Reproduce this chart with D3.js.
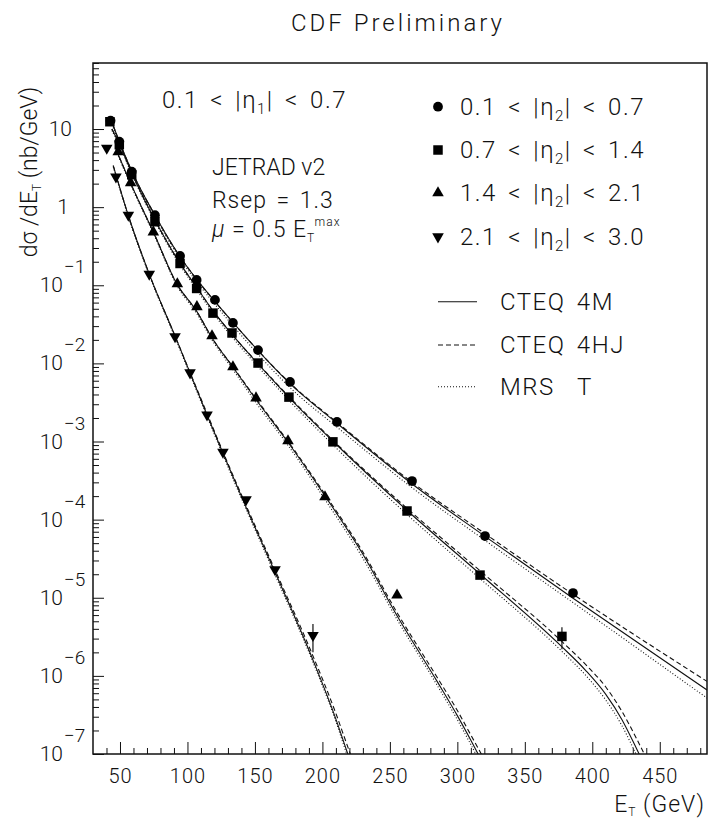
<!DOCTYPE html>
<html>
<head>
<meta charset="utf-8">
<script src="https://cdn.jsdelivr.net/npm/d3@7"></script>
<style>
    body { margin: 0; background: #fff; }
    svg text { font-family: Roboto, "DejaVu Sans", sans-serif; font-weight: 300; fill: #111; }
</style>
</head>
<body>
<svg id="chart" width="710" height="821"></svg>
<script>
// eta2 bins (legend)
const binLo = ['0.1', '0.7', '1.4', '2.1'];
const binHi = ['0.7', '1.4', '2.1', '3.0'];
const markers = ['circle', 'square', 'triangle', 'invtriangle'];

// measured points (ET in GeV, dsigma/dET in nb/GeV)
const circE = [43, 49.5, 58.7, 75.9, 94.5, 106.8, 120.4, 133.7, 152.3, 176, 210.8, 266.4, 320.5, 385.7];
const circV = [12.8, 6.9, 2.84, 0.79, 0.237, 0.117, 0.065, 0.033, 0.0148, 0.00578, 0.00178, 3.12e-4, 6.17e-5, 1.15e-5];
const circErr = [0, 0, 0, 0, 0, 0, 0, 0, 0, 0, 0, 0, 0, 0];

const sqE = [42.5, 49.5, 58.7, 75.9, 94.5, 106.8, 118.9, 133, 152.3, 175.2, 207.8, 262.7, 316.8, 377.5];
const sqV = [12.4, 6.3, 2.6, 0.65, 0.19, 0.091, 0.044, 0.0245, 0.0101, 0.0037, 9.9e-4, 1.29e-4, 1.95e-5, 3.2e-6];
const sqErr = [0, 0, 0, 0, 0, 0, 0, 0, 0, 0, 0, 0, 0, 1.0e-6];

const triE = [48.7, 57.9, 74.7, 92.5, 107, 118.2, 133.7, 150.8, 174.5, 201.9, 255.3];
const triV = [5.1, 2.05, 0.48, 0.104, 0.053, 0.0224, 0.009, 0.0036, 1.02e-3, 1.95e-4, 1.08e-5];
const triErr = [0, 0, 0, 0, 0, 0, 0, 0, 0, 0, 0];

const invE = [40.2, 47, 56.2, 71.7, 90.8, 101.9, 114.5, 126.3, 143.4, 164.9, 193];
const invV = [5.7, 2.45, 0.79, 0.139, 0.022, 0.0076, 0.0022, 7.3e-4, 1.8e-4, 2.3e-5, 3.3e-6];
const invErr = [0, 0, 0, 0, 0, 0, 0, 0, 0, 0, 1.3e-6];

// JETRAD predictions: CTEQ 4M (solid), CTEQ 4HJ (dashed), MRS T (dotted)
const circCurveE = [45, 50, 60, 75, 95, 107, 120, 134, 152, 176, 211, 266, 320, 386, 485];
const circCteq4m = [11, 6.6, 2.6, 0.84, 0.225, 0.118, 0.063, 0.033, 0.0148, 0.0055, 0.0017, 2.9e-4, 6.2e-5, 9.8e-6, 6.6e-7];
const circCteq4hj = [11, 6.6, 2.6, 0.84, 0.225, 0.118, 0.063, 0.033, 0.0148, 0.0056, 0.00175, 3.05e-4, 6.7e-5, 1.1e-5, 8.5e-7];
const circMrst = [10.5, 6.3, 2.5, 0.8, 0.212, 0.11, 0.058, 0.030, 0.0133, 0.0049, 0.00152, 2.6e-4, 5.5e-5, 8.6e-6, 5.2e-7];

const sqCurveE = [44, 50, 60, 76, 95, 107, 119, 133, 152, 175, 208, 263, 317, 377, 395, 410, 422, 433, 442];
const sqCteq4m = [10, 6.2, 2.45, 0.68, 0.185, 0.093, 0.047, 0.0235, 0.0100, 0.0037, 1.0e-3, 1.3e-4, 2.0e-5, 2.4e-6, 1.18e-6, 5.8e-7, 2.75e-7, 1.15e-7, 5.5e-8];
const sqCteq4hj = [10, 6.2, 2.45, 0.68, 0.185, 0.093, 0.047, 0.0235, 0.0101, 0.0038, 1.03e-3, 1.38e-4, 2.2e-5, 2.8e-6, 1.4e-6, 7.2e-7, 3.5e-7, 1.55e-7, 7.5e-8];
const sqMrst = [9.6, 5.9, 2.35, 0.65, 0.175, 0.087, 0.044, 0.0218, 0.0092, 0.0034, 9.0e-4, 1.15e-4, 1.75e-5, 2.1e-6, 1.02e-6, 4.9e-7, 2.3e-7, 9.5e-8, 4.5e-8];

const triCurveE = [47, 58, 75, 92, 107, 118, 134, 151, 175, 202, 230, 255, 285, 300, 310, 320];
const triCteq4m = [5.5, 2.0, 0.47, 0.105, 0.046, 0.0215, 0.0088, 0.0034, 9.5e-4, 2.0e-4, 3.6e-5, 6.0e-6, 8.5e-7, 3.1e-7, 1.5e-7, 7e-8];
const triCteq4hj = [5.5, 2.0, 0.47, 0.105, 0.046, 0.0215, 0.0089, 0.0035, 9.8e-4, 2.1e-4, 3.85e-5, 6.6e-6, 9.6e-7, 3.6e-7, 1.75e-7, 8.5e-8];
const triMrst = [5.3, 1.92, 0.45, 0.1, 0.043, 0.0202, 0.0082, 0.0031, 8.7e-4, 1.8e-4, 3.2e-5, 5.4e-6, 7.6e-7, 2.75e-7, 1.32e-7, 6.2e-8];

const invCurveE = [45, 56, 72, 91, 102, 114, 126, 143, 165, 193, 210, 218, 224];
const invCteq4m = [3.4, 0.8, 0.135, 0.022, 0.0075, 0.0023, 7.3e-4, 1.5e-4, 2.1e-5, 1.6e-6, 2.8e-7, 1.1e-7, 5.5e-8];
const invCteq4hj = [3.4, 0.8, 0.135, 0.022, 0.0076, 0.0024, 7.6e-4, 1.58e-4, 2.25e-5, 1.8e-6, 3.3e-7, 1.35e-7, 7e-8];
const invMrst = [3.3, 0.77, 0.13, 0.021, 0.0071, 0.0022, 6.9e-4, 1.42e-4, 1.95e-5, 1.5e-6, 2.6e-7, 1.0e-7, 5e-8];

const modelNames = ['CTEQ 4M', 'CTEQ 4HJ', 'MRS  T'];
const modelDash = [null, '5,3', '1,2'];

const xTicks = [50, 100, 150, 200, 250, 300, 350, 400, 450];
const yDecades = [1e1, 1, 1e-1, 1e-2, 1e-3, 1e-4, 1e-5, 1e-6, 1e-7];

// ---- layout ----
const plot = { left: 93, right: 707, top: 63, bottom: 754 };
const svg = d3.select('#chart');

const x = d3.scaleLinear().domain([30, 485]).range([plot.left, plot.right]);
const y = d3.scaleLog().domain([1e-7, 70]).range([plot.bottom, plot.top]);

const series = [
    { E: circE, V: circV, err: circErr, curveE: circCurveE, models: [circCteq4m, circCteq4hj, circMrst] },
    { E: sqE, V: sqV, err: sqErr, curveE: sqCurveE, models: [sqCteq4m, sqCteq4hj, sqMrst] },
    { E: triE, V: triV, err: triErr, curveE: triCurveE, models: [triCteq4m, triCteq4hj, triMrst] },
    { E: invE, V: invV, err: invErr, curveE: invCurveE, models: [invCteq4m, invCteq4hj, invMrst] }
];

svg.append('defs').append('clipPath').attr('id', 'clip')
    .append('rect')
    .attr('x', plot.left).attr('y', plot.top)
    .attr('width', plot.right - plot.left).attr('height', plot.bottom - plot.top);

function markerPath(kind) {
    if (kind === 'circle') return d3.symbol(d3.symbolCircle, 75)();
    if (kind === 'square') return d3.symbol(d3.symbolSquare, 90)();
    return d3.symbol(d3.symbolTriangle, 58)();
}
function markerTransform(kind, px, py) {
    return kind === 'invtriangle' ? `translate(${px},${py}) rotate(180)` : `translate(${px},${py})`;
}

// ---- axes ----
const minorX = d3.range(40, 485, 10).filter(v => v % 50 !== 0);
svg.append('g')
    .attr('transform', `translate(0,${plot.bottom})`)
    .call(d3.axisBottom(x).tickValues(minorX).tickSize(-6).tickFormat(''))
    .call(g => g.select('.domain').remove());
svg.append('g')
    .attr('class', 'xaxis')
    .attr('transform', `translate(0,${plot.bottom})`)
    .call(d3.axisBottom(x).tickValues(xTicks).tickSize(-12).tickPadding(15).tickFormat(d3.format('d')))
    .call(g => g.select('.domain').remove())
    .call(g => g.selectAll('text').style('font-size', '20px').style('letter-spacing', '1px').attr('fill', '#111'));

const minorY = [];
for (let e = -7; e <= 1; e++) {
    for (let m = 2; m <= 9; m++) {
        const v = m * Math.pow(10, e);
        if (v <= 70) minorY.push(v);
    }
}
svg.append('g')
    .attr('transform', `translate(${plot.left},0)`)
    .call(d3.axisLeft(y).tickValues(minorY).tickSize(-6).tickFormat(''))
    .call(g => g.select('.domain').remove());
svg.append('g')
    .attr('transform', `translate(${plot.left},0)`)
    .call(d3.axisLeft(y).tickValues(yDecades).tickSize(-11).tickFormat(''))
    .call(g => g.select('.domain').remove());

svg.selectAll('.tick line').attr('stroke', '#111');

// y decade labels
const yLab = svg.append('g').style('font-size', '21px');
yDecades.forEach(v => {
    const e = Math.round(Math.log10(v));
    const py = y(v) + 7;
    if (e === 1) {
        yLab.append('text').attr('x', 72).attr('y', py).attr('text-anchor', 'end').text('10');
    } else if (e === 0) {
        yLab.append('text').attr('x', 69).attr('y', py).attr('text-anchor', 'end').text('1');
    } else {
        yLab.append('text').attr('x', 63).attr('y', py).attr('text-anchor', 'end').text('10');
        yLab.append('text').attr('x', 64).attr('y', py - 19).style('font-size', '19px').text('\u2212' + (-e));
    }
});

// frame
svg.append('rect')
    .attr('x', plot.left).attr('y', plot.top)
    .attr('width', plot.right - plot.left).attr('height', plot.bottom - plot.top)
    .attr('fill', 'none').attr('stroke', '#111').attr('stroke-width', 1.5);

// ---- curves ----
const line = d3.line()
    .x(d => x(d[0]))
    .y(d => y(d[1]))
    .curve(d3.curveMonotoneX);

const curves = svg.append('g').attr('clip-path', 'url(#clip)');
series.forEach(s => {
    s.models.forEach((vals, k) => {
        curves.append('path')
            .datum(s.curveE.map((e, i) => [e, vals[i]]))
            .attr('d', line)
            .attr('fill', 'none')
            .attr('stroke', '#111')
            .attr('stroke-width', 1.1)
            .attr('stroke-dasharray', modelDash[k]);
    });
});

// ---- data points ----
const pts = svg.append('g').attr('clip-path', 'url(#clip)');
series.forEach((s, si) => {
    const kind = markers[si];
    s.E.forEach((e, i) => {
        if (s.err[i] > 0) {
            pts.append('line')
                .attr('x1', x(e)).attr('x2', x(e))
                .attr('y1', y(s.V[i] + s.err[i])).attr('y2', y(Math.max(s.V[i] - s.err[i], 1e-8)))
                .attr('stroke', '#111').attr('stroke-width', 1.2);
        }
        pts.append('path')
            .attr('d', markerPath(kind))
            .attr('transform', markerTransform(kind, x(e), y(s.V[i])))
            .attr('fill', '#000');
    });
});

// ---- legends ----
const wide = sel => sel.style('font-size', '24px').style('letter-spacing', '1.5px').style('word-spacing', '4px');

const legMarkX = 438, legTextX = 460;
const legRowY = [106.7, 150, 193, 236.7];
binLo.forEach((lo, i) => {
    svg.append('path')
        .attr('d', markerPath(markers[i]))
        .attr('transform', markerTransform(markers[i], legMarkX, legRowY[i]))
        .attr('fill', '#000');
    const t = svg.append('text')
        .attr('x', legTextX).attr('y', legRowY[i] + 8)
        .call(wide);
    t.append('tspan').text(`${lo} < |\u03b7`);
    t.append('tspan').attr('dy', 6).style('font-size', '15px').text('2');
    t.append('tspan').attr('dy', -6).text(`| < ${binHi[i]}`);
});

const modelRowY = [301.7, 345, 386.7];
modelNames.forEach((name, k) => {
    svg.append('line')
        .attr('x1', 438).attr('x2', 477)
        .attr('y1', modelRowY[k]).attr('y2', modelRowY[k])
        .attr('stroke', '#111').attr('stroke-width', 1.1)
        .attr('stroke-dasharray', modelDash[k]);
    svg.append('text')
        .attr('x', 500).attr('y', modelRowY[k] + 8)
        .call(wide)
        .style('white-space', 'pre')
        .text(name);
});

// ---- annotations ----
const eta1 = svg.append('text').attr('x', 162).attr('y', 108).call(wide);
eta1.append('tspan').text('0.1 < |\u03b7');
eta1.append('tspan').attr('dy', 6).style('font-size', '15px').text('1');
eta1.append('tspan').attr('dy', -6).text('| < 0.7');

svg.append('text').attr('x', 212).attr('y', 175).style('font-size', '23px').text('JETRAD v2');
svg.append('text').attr('x', 212).attr('y', 208).style('font-size', '23px').style('letter-spacing', '1px').style('word-spacing', '3px').text('Rsep = 1.3');
const mu = svg.append('text').attr('x', 212).attr('y', 237).style('font-size', '23px').style('letter-spacing', '1px');
mu.append('tspan').style('font-style', 'italic').text('\u03bc');
mu.append('tspan').text(' = 0.5 E');
mu.append('tspan').attr('dy', 5).style('font-size', '12px').text('T');
mu.append('tspan').attr('dy', -16).style('font-size', '12px').text('max');

// title
svg.append('text').attr('x', 398).attr('y', 31).attr('text-anchor', 'middle')
    .style('font-size', '24px').style('letter-spacing', '3px').text('CDF Preliminary');

// x title
const xt = svg.append('text').attr('x', 705).attr('y', 812).attr('text-anchor', 'end')
    .style('font-size', '23px').style('letter-spacing', '1px');
xt.append('tspan').text('E');
xt.append('tspan').attr('dy', 4).style('font-size', '12px').text('T');
xt.append('tspan').attr('dy', -4).text(' (GeV)');

// y title
const yt = svg.append('text')
    .attr('transform', 'translate(37,172) rotate(-90)')
    .attr('text-anchor', 'middle')
    .style('font-size', '23px');
yt.append('tspan').text('d\u03c3 /dE');
yt.append('tspan').attr('dy', 4).style('font-size', '12px').text('T');
yt.append('tspan').attr('dy', -4).text(' (nb/GeV)');
</script>
</body>
</html>
